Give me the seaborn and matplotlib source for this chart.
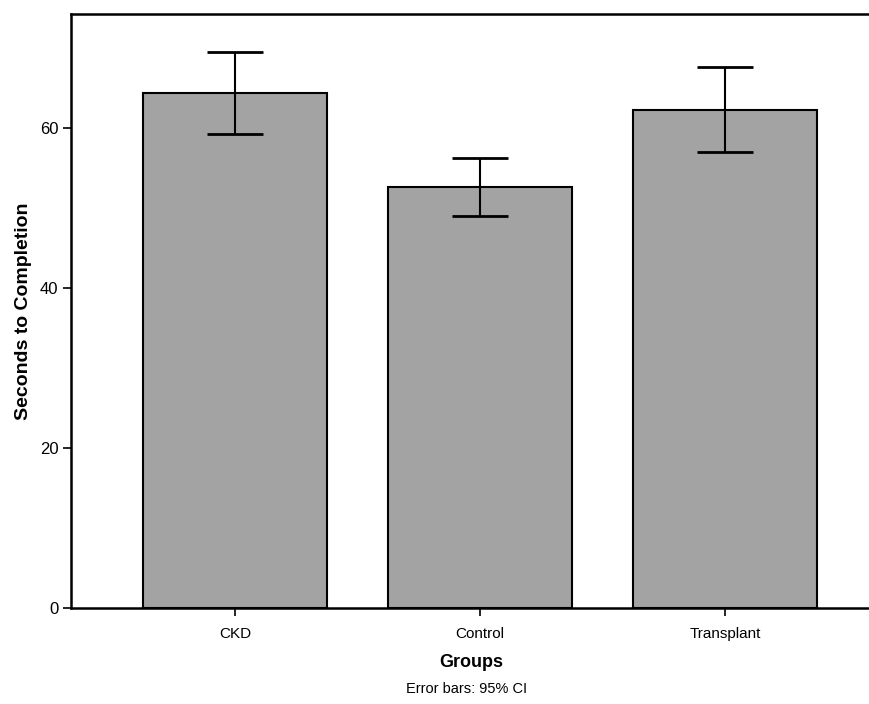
import matplotlib
matplotlib.use("Agg")
import matplotlib.pyplot as plt
import seaborn as sns
import pandas as pd

groups = ["CKD", "Control", "Transplant"]
means = [64.3, 52.6, 62.2]
ci_low = [59.2, 49.0, 57.0]
ci_high = [69.5, 56.2, 67.6]
y_ticks = [0, 20, 40, 60]

sns.set_theme(style="white")
plt.rcParams["font.family"] = ["Liberation Sans", "DejaVu Sans"]
plt.rcParams["text.color"] = "black"
plt.rcParams["axes.labelcolor"] = "black"
plt.rcParams["xtick.color"] = "black"
plt.rcParams["ytick.color"] = "black"

df = pd.DataFrame({"Groups": groups, "Seconds": means})

fig = plt.figure(figsize=(8.7, 7.04), dpi=100)
ax = fig.add_axes([71 / 870, (704 - 608) / 704, 1 - 71 / 870 + 0.002, (608 - 14) / 704])

sns.barplot(data=df, x="Groups", y="Seconds", ax=ax, color="#a3a3a3",
            saturation=1, width=0.75, edgecolor="black", linewidth=1.5,
            errorbar=None)

yerr = [[m - l for m, l in zip(means, ci_low)], [h - m for m, h in zip(means, ci_high)]]
ax.errorbar(range(len(groups)), means, yerr=yerr, fmt="none", ecolor="black",
            elinewidth=1.5, capsize=20, capthick=2, zorder=5)

ax.set_xlim(-0.67, 2.60)
ax.set_ylim(0, 74.2)
ax.set_yticks(y_ticks)
ax.set_yticklabels([str(t) for t in y_ticks], fontsize=12)
ax.tick_params(axis="x", labelsize=11, length=6, width=1.2, direction="out", pad=8, bottom=True)
ax.tick_params(axis="y", length=6, width=1.2, direction="out", pad=3, left=True)

for s in ["left", "bottom", "top"]:
    ax.spines[s].set_visible(True)
    ax.spines[s].set_color("black")
    ax.spines[s].set_linewidth(1.8)
ax.spines["right"].set_visible(False)

ax.set_ylabel("Seconds to Completion", fontsize=14, fontweight="bold", labelpad=6)
ax.set_xlabel("Groups", fontsize=13, fontweight="bold", labelpad=9)
fig.text((71 + 870) / 2 / 870 - 0.005, 1 - 689 / 704, "Error bars: 95% CI",
         ha="center", va="center", fontsize=10.5)

fig.savefig("out.png", dpi=100)
